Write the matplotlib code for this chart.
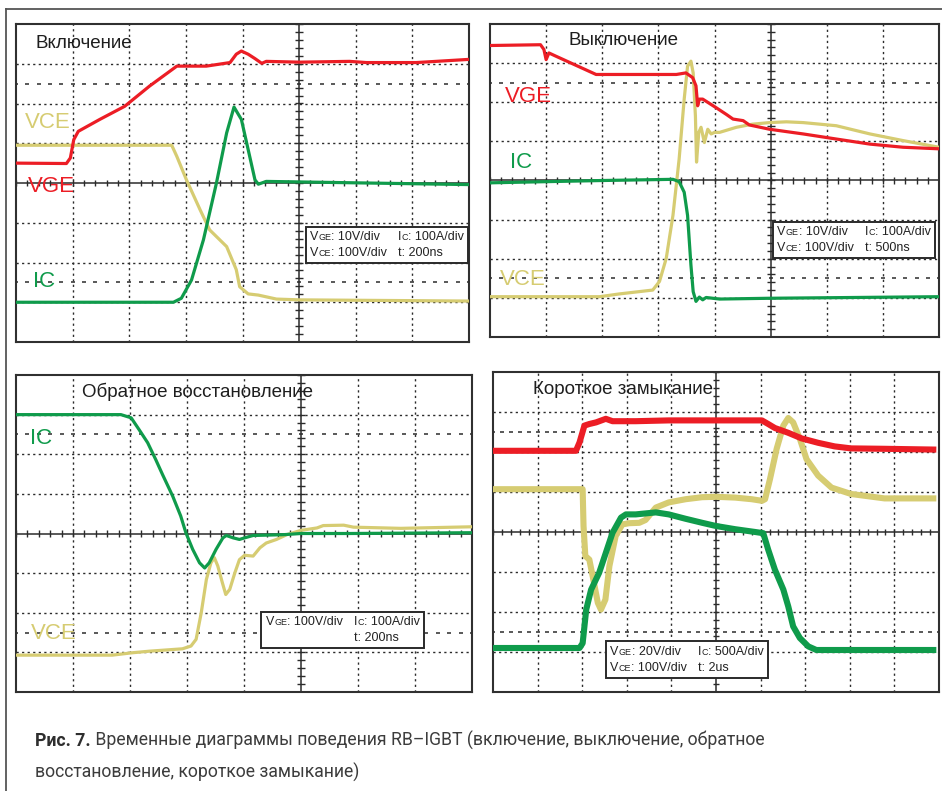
import matplotlib

matplotlib.use("Agg")
import matplotlib.pyplot as plt
import numpy as np
from matplotlib.lines import Line2D
from matplotlib.offsetbox import AnnotationBbox, HPacker, TextArea, VPacker

plt.rcParams["font.family"] = ["Liberation Sans", "DejaVu Sans"]

RED = "#ec1d25"
GREEN = "#0f9b4b"
KHAKI = "#d6cc72"
GRID = "#2b2b2b"

# Scope traces, in screen divisions (x: time div from centre line, y: div from centre).
# Turn-on, 200 ns/div
ON_VGE_T = [-5.0, -4.11, -4.04, -3.98, -3.9, -3.52, -3.08, -2.64, -2.16, -1.64, -1.22,
            -1.11, -1.02, -0.9, -0.78, -0.66, -0.58, 0.01, 0.89, 1.19, 2.07, 3.0]
ON_VGE = [0.50, 0.49, 0.63, 1.09, 1.30, 1.60, 1.93, 2.44, 2.94, 2.94, 3.03,
          3.24, 3.32, 3.24, 3.13, 3.01, 3.06, 3.04, 3.06, 3.03, 3.03, 3.11]
ON_VCE_T = [-5.0, -2.25, -2.16, -1.99, -1.75, -1.58, -1.28, -1.11, -1.05, -0.9, -0.72, -0.4, 0.01, 3.0]
ON_VCE = [0.95, 0.95, 0.67, 0.08, -0.67, -1.18, -1.6, -2.18, -2.61, -2.79, -2.82, -2.92, -2.94, -2.97]
ON_IC_T = [-5.0, -2.22, -2.08, -1.9, -1.69, -1.46, -1.28, -1.15, -1.02, -0.9, -0.78,
           -0.72, -0.58, 1.19, 3.0]
ON_IC = [-3.0, -3.0, -2.9, -2.44, -1.43, 0.0, 1.26, 1.91, 1.6, 0.84, 0.08,
         -0.03, 0.04, 0.0, -0.04]

# Turn-off, 500 ns/div
OFF_VGE_T = [-5.02, -4.1, -4.04, -4.0, -3.95, -3.83, -3.11, -1.68, -1.51, -1.39, -1.33, -1.3,
             -1.27, -1.21, -0.97, -0.79, -0.67, -0.49, -0.38, -0.02, 0.58, 1.17, 1.77, 2.36, 3.0]
OFF_VGE = [3.45, 3.47, 3.35, 3.09, 3.26, 3.18, 2.71, 2.71, 2.75, 2.63, 2.42, 1.91,
           2.08, 2.08, 1.86, 1.69, 1.57, 1.53, 1.42, 1.31, 1.19, 1.06, 0.93, 0.85, 0.81]
OFF_VCE_T = [-5.02, -3.05, -2.7, -2.1, -1.98, -1.86, -1.74, -1.63, -1.54, -1.48, -1.42, -1.38,
             -1.34, -1.32, -1.28, -1.24, -1.18, -1.12, -1.06, -1.0, -0.91, -0.61, -0.32, -0.02,
             0.28, 0.58, 1.17, 1.77, 2.36, 3.0]
OFF_VCE = [-2.97, -2.97, -2.9, -2.8, -2.58, -1.99, -0.89, 0.55, 2.08, 2.92, 3.05, 2.75,
           1.65, 0.47, 1.23, 1.36, 0.97, 1.31, 1.19, 1.23, 1.23, 1.36, 1.44, 1.48,
           1.5, 1.48, 1.4, 1.19, 1.02, 0.85]
OFF_IC_T = [-5.02, -2.99, -1.74, -1.63, -1.54, -1.48, -1.42, -1.38, -1.33, -1.27, -1.21, -1.15,
            -0.91, -0.02, 3.0]
OFF_IC = [-0.06, 0.0, 0.03, -0.03, -0.3, -0.89, -2.16, -2.84, -3.09, -2.98, -3.05, -2.99,
          -3.03, -3.01, -2.97]

# Reverse recovery, 200 ns/div
RR_IC_T = [-5.02, -3.16, -2.98, -2.84, -2.69, -2.55, -2.43, -2.25, -2.11, -2.02, -1.9, -1.78,
           -1.69, -1.61, -1.49, -1.37, -1.31, -1.19, -1.08, -0.99, -0.84, -0.31, 0.0, 0.86, 3.01]
RR_IC = [3.0, 3.0, 2.92, 2.62, 2.29, 1.87, 1.49, 0.94, 0.44, 0.02, -0.4, -0.74,
         -0.87, -0.74, -0.4, -0.11, -0.05, -0.11, -0.15, -0.11, -0.05, -0.03, 0.0, 0.0, 0.02]
RR_VCE_T = [-5.02, -3.31, -2.96, -2.66, -2.08, -1.93, -1.84, -1.75, -1.66, -1.58, -1.52, -1.46,
            -1.38, -1.32, -1.25, -1.16, -1.08, -0.99, -0.84, -0.72, -0.61, -0.43, -0.25, 0.0,
            0.28, 0.39, 0.75, 0.92, 1.75, 3.01]
RR_VCE = [-3.07, -3.07, -3.01, -2.97, -2.91, -2.84, -2.67, -2.0, -1.16, -0.74, -0.61, -0.82,
          -1.24, -1.54, -1.41, -0.99, -0.66, -0.55, -0.57, -0.36, -0.24, -0.15, -0.03, 0.08,
          0.14, 0.2, 0.21, 0.16, 0.13, 0.17]

# Short circuit, 2 us/div
SC_VGE_T = [-5.0, -3.14, -3.06, -2.95, -2.84, -2.69, -2.47, -2.32, -1.8, -1.06, 0.0,
            1.03, 1.17, 1.32, 1.62, 1.92, 2.29, 2.66, 3.03, 3.78, 4.94]
SC_VGE = [2.03, 2.03, 2.24, 2.66, 2.7, 2.74, 2.83, 2.77, 2.77, 2.79, 2.79,
          2.79, 2.70, 2.6, 2.48, 2.34, 2.23, 2.14, 2.09, 2.08, 2.06]
SC_VCE_T = [-5.0, -2.99, -2.97, -2.93, -2.84, -2.75, -2.65, -2.58, -2.48, -2.39, -2.25, -2.1,
            -1.95, -1.72, -1.58, -1.35, -1.06, -0.68, -0.31, 0.0, 0.43, 0.8, 1.03, 1.1,
            1.21, 1.36, 1.51, 1.62, 1.73, 1.88, 2.03, 2.29, 2.59, 3.03, 3.78, 4.94]
SC_VCE = [1.07, 1.07, 0.15, -0.6, -0.69, -1.19, -1.77, -1.94, -1.69, -0.85, -0.1, 0.19,
          0.22, 0.23, 0.3, 0.61, 0.74, 0.82, 0.87, 0.88, 0.86, 0.82, 0.78, 0.82,
          1.32, 2.08, 2.66, 2.85, 2.74, 2.33, 1.82, 1.41, 1.11, 0.95, 0.84, 0.84]
SC_IC_T = [-5.0, -3.06, -2.99, -2.91, -2.8, -2.62, -2.47, -2.32, -2.13, -2.02, -1.8, -1.35,
           -1.06, -0.68, -0.31, 0.0, 0.43, 0.88, 1.06, 1.17, 1.32, 1.51, 1.62, 1.73,
           1.88, 2.07, 2.25, 2.66, 4.94]
SC_IC = [-2.9, -2.9, -2.78, -1.94, -1.44, -1.02, -0.52, -0.02, 0.36, 0.44, 0.44, 0.49,
         0.44, 0.33, 0.23, 0.15, 0.07, 0.0, -0.03, -0.44, -0.94, -1.44, -1.86, -2.36,
         -2.65, -2.86, -2.95, -2.95, -2.95]

# Settings boxes: "{..}" marks the small-caps subscript
ON_BOX = [["V{GE}: 10V/div", "V{CE}: 100V/div"], ["I{C}: 100A/div", "t: 200ns"]]
OFF_BOX = [["V{GE}: 10V/div", "V{CE}: 100V/div"], ["I{C}: 100A/div", "t: 500ns"]]
RR_BOX = [["V{GE}: 100V/div", " "], ["I{C}: 100A/div", "t: 200ns"]]
SC_BOX = [["V{GE}: 20V/div", "V{CE}: 100V/div"], ["I{C}: 500A/div", "t: 2us"]]

# panel: rect in pixels (x0, y0, x1, y1 from top-left), x range in div, title, traces,
# trace labels, settings box and where its top-left corner sits
PANELS = [
    dict(rect=(16, 24, 469, 342), xr=(-5, 3), title=("Включение", -4.65, 3.52),
         traces=[(ON_VCE_T, ON_VCE, KHAKI), (ON_VGE_T, ON_VGE, RED), (ON_IC_T, ON_IC, GREEN)],
         labels=[("VCE", -4.84, 1.53, KHAKI), ("VGE", -4.79, -0.08, RED), ("IC", -4.7, -2.47, GREEN)],
         box=(ON_BOX, 0.19, -1.2), lw=2.3),
    dict(rect=(490, 24, 939, 337), xr=(-5, 3), title=("Выключение", -3.6, 3.58),
         traces=[(OFF_VCE_T, OFF_VCE, KHAKI), (OFF_VGE_T, OFF_VGE, RED), (OFF_IC_T, OFF_IC, GREEN)],
         labels=[("VGE", -4.74, 2.15, RED), ("IC", -4.65, 0.46, GREEN), ("VCE", -4.83, -2.53, KHAKI)],
         box=(OFF_BOX, 0.12, -1.16), lw=2.3),
    dict(rect=(16, 375, 472, 692), xr=(-5, 3), title=("Обратное восстановление", -3.85, 3.57),
         traces=[(RR_VCE_T, RR_VCE, KHAKI), (RR_IC_T, RR_IC, GREEN)],
         labels=[("IC", -4.75, 2.39, GREEN), ("VCE", -4.73, -2.52, KHAKI)],
         box=(RR_BOX, -0.62, -2.08), lw=2.3),
    dict(rect=(493, 372, 939, 692), xr=(-5, 5), title=("Короткое замыкание", -4.11, 3.55),
         traces=[(SC_VCE_T, SC_VCE, KHAKI), (SC_VGE_T, SC_VGE, RED), (SC_IC_T, SC_IC, GREEN)],
         labels=[], box=(SC_BOX, -2.37, -2.84), lw=4.4),
]

W, H = 942, 791


def graticule(ax, x0, x1):
    ax.set_xlim(x0, x1)
    ax.set_ylim(-4, 4)
    ax.set_xticks([])
    ax.set_yticks([])
    for s in ax.spines.values():
        s.set_color("#303030")
        s.set_linewidth(1.5)
    dash = dict(color=GRID, lw=1.0, ls=(0, (1.6, 2.4)), zorder=1)
    for x in range(x0 + 1, x1):
        if x:
            ax.axvline(x, **dash)
    for y in (-3, -2, -1, 1, 2, 3):
        ax.axhline(y, **dash)
    minor_x = np.arange(x0, x1 + 0.01, 0.2)
    minor_y = np.arange(-4, 4.01, 0.2)
    # 0 % / 100 % rows
    for y in (-2.5, 2.5):
        ax.plot(minor_x, np.full_like(minor_x, y), ls="none", marker="_", ms=3, mew=1.1,
                color=GRID, zorder=1)
    ax.axhline(0, color=GRID, lw=1.1, zorder=1)
    ax.axvline(0, color=GRID, lw=1.1, zorder=1)
    ax.vlines(minor_x, -0.08, 0.08, color=GRID, lw=1.0, zorder=1)
    ax.hlines(minor_y, -0.07, 0.07, color=GRID, lw=1.0, zorder=1)


def rich(s, size=9.0, small=6.5):
    # "V{GE}: 10V/div" -> V + small GE + rest, aligned on the baseline
    parts = []
    for i, chunk in enumerate(s.replace("}", "{").split("{")):
        if chunk:
            parts.append(TextArea(chunk, textprops=dict(size=small if i % 2 else size,
                                                        color="#222222")))
    return HPacker(children=parts, align="baseline", pad=0, sep=0)


def settings_box(ax, cols, x, y):
    columns = [VPacker(children=[rich(r) for r in col], align="left", pad=0, sep=3)
               for col in cols]
    pack = HPacker(children=columns, align="top", pad=0, sep=8)
    ab = AnnotationBbox(pack, (x, y), xycoords="data", box_alignment=(0, 1), frameon=True,
                        pad=0.22, zorder=5,
                        bboxprops=dict(edgecolor="#2a2a2a", facecolor="white", lw=1.4,
                                       boxstyle="square"))
    ax.add_artist(ab)


fig = plt.figure(figsize=(W / 100, H / 100), dpi=100)

for p in PANELS:
    x0, y0, x1, y1 = p["rect"]
    ax = fig.add_axes([x0 / W, 1 - y1 / H, (x1 - x0) / W, (y1 - y0) / H])
    graticule(ax, *p["xr"])
    for t, v, c in p["traces"]:
        ax.plot(t, v, color=c, lw=p["lw"], solid_joinstyle="round", solid_capstyle="butt",
                zorder=3)
    title, tx, ty = p["title"]
    ax.text(tx, ty, title, fontsize=13.5, color="#1e1e1e", va="center", ha="left", zorder=4)
    for txt, lx, ly, c in p["labels"]:
        ax.text(lx, ly, txt, fontsize=16, color=c, va="center", ha="left", zorder=4)
    cols, bx, by = p["box"]
    settings_box(ax, cols, bx, by)

# page frame
fig.add_artist(Line2D([6 / W, 1], [1 - 9 / H] * 2, color="#555555", lw=1.3))
fig.add_artist(Line2D([6 / W] * 2, [0, 1 - 9 / H], color="#555555", lw=1.3))

# caption
cap_font = ["Roboto", "DejaVu Sans"]
line1 = HPacker(children=[
    TextArea("Рис. 7.", textprops=dict(size=12.7, weight="bold", family=cap_font, color="#2e2e2e")),
    TextArea(" Временные диаграммы поведения RB–IGBT (включение, выключение, обратное",
             textprops=dict(size=12.7, family=cap_font, color="#3c3c3c")),
], align="baseline", pad=0, sep=0)
line2 = TextArea("восстановление, короткое замыкание)",
                 textprops=dict(size=12.7, family=cap_font, color="#3c3c3c"))
caption = VPacker(children=[line1, line2], align="left", pad=0, sep=9)
fig.add_artist(AnnotationBbox(caption, (35 / W, 1 - 731 / H), xycoords="figure fraction",
                              box_alignment=(0, 1), frameon=False, pad=0))

fig.savefig("out.png", dpi=100, facecolor="white")
